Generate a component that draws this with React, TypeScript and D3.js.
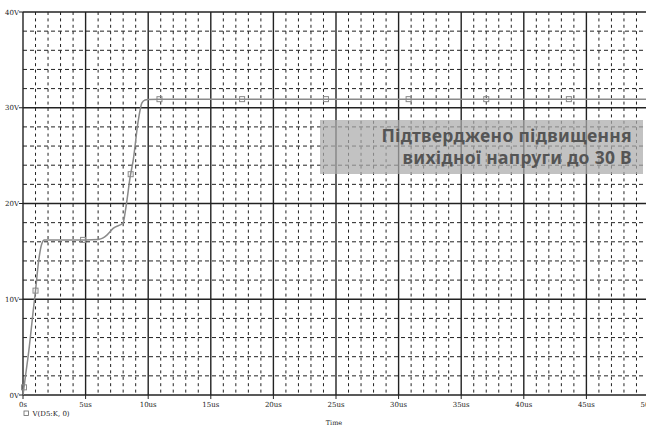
import React from 'react';
import * as d3 from 'd3';

// transient sim: output voltage V(D5:K, 0) vs time (us)
const timeUs = [0, 0.15, 0.5, 0.8, 1.0, 1.25, 1.5, 1.7, 3, 5, 6.0, 6.4, 6.7, 7.2, 8.0, 8.15, 8.3, 8.55, 8.8, 9.2, 9.5, 9.75, 10.0, 11, 20, 30, 40, 50];
const volts = [0, 1.5, 5.0, 8.6, 10.9, 14.0, 15.8, 16.2, 16.2, 16.2, 16.25, 16.4, 16.7, 17.4, 18.0, 19.0, 20.3, 22.7, 24.5, 28.6, 30.5, 30.8, 30.85, 30.9, 30.9, 30.9, 30.9, 30.9];
const markerTimes = [0.08, 1.0, 4.8, 8.6, 10.9, 17.5, 24.2, 30.8, 37.0, 43.6];

const xTicks = [0, 5, 10, 15, 20, 25, 30, 35, 40, 45, 50];
const xTickLabels = ['0s', '5us', '10us', '15us', '20us', '25us', '30us', '35us', '40us', '45us', '50us'];
const yTicks = [0, 10, 20, 30, 40];
const yTickLabels = ['0V', '10V', '20V', '30V', '40V'];
const legendLabel = 'V(D5:K, 0)';
const axisTitle = 'Time';
const noteLines = ['Підтверджено підвищення', 'вихідної напруги до 30 В'];

const W = 646;
const H = 430;
const margin = { top: 12, right: -3, bottom: 35, left: 23 };

const App: React.FC = () => {
  const innerW = W - margin.left - margin.right;
  const innerH = H - margin.top - margin.bottom;
  const x = d3.scaleLinear().domain([0, 50]).range([0, innerW]);
  const y = d3.scaleLinear().domain([0, 40]).range([innerH, 0]);

  const minorX = d3.range(0, 50, 1).filter((t) => t % 5 !== 0);
  const minorY = d3.range(0, 40, 2).filter((v) => v % 10 !== 0);

  const pts: [number, number][] = timeUs.map((t, i) => [x(t), y(volts[i])]);
  const line = d3.line<[number, number]>().curve(d3.curveMonotoneX)(pts) || '';
  const interp = (t: number) => {
    const i = d3.bisectLeft(timeUs, t);
    if (i <= 0) return volts[0];
    if (i >= timeUs.length) return volts[volts.length - 1];
    const t0 = timeUs[i - 1], t1 = timeUs[i];
    return volts[i - 1] + ((t - t0) / (t1 - t0)) * (volts[i] - volts[i - 1]);
  };

  const tickFont = '"DejaVu Serif", serif';

  return (
    <svg width={W} height={H} style={{ position: 'absolute', left: 0, top: 0, background: '#fff' }}>
      <g transform={`translate(${margin.left},${margin.top})`}>
        {/* minor dashed grid */}
        {minorX.map((t) => (
          <line key={'mx' + t} x1={x(t)} x2={x(t)} y1={0} y2={innerH}
            stroke="#222" strokeWidth={1} strokeDasharray="3,3.4" />
        ))}
        {minorY.map((v) => (
          <line key={'my' + v} x1={0} x2={innerW} y1={y(v)} y2={y(v)}
            stroke="#222" strokeWidth={1} strokeDasharray="4,3" />
        ))}
        {/* major grid */}
        {xTicks.map((t) => (
          <line key={'gx' + t} x1={x(t)} x2={x(t)} y1={0} y2={innerH} stroke="#222" strokeWidth={1.4} />
        ))}
        {yTicks.map((v) => (
          <line key={'gy' + v} x1={0} x2={innerW} y1={y(v)} y2={y(v)} stroke="#222" strokeWidth={1.4} />
        ))}

        {/* trace */}
        <path d={line} fill="none" stroke="#8a8a8a" strokeWidth={1.5} />
        {markerTimes.map((t) => (
          <rect key={'m' + t} x={x(t) - 2.5} y={y(interp(t)) - 2.5} width={5} height={5}
            fill="none" stroke="#8a8a8a" strokeWidth={1} />
        ))}

        {/* axis ticks & labels */}
        {yTicks.map((v, i) => (
          <g key={'yt' + v}>
            <line x1={-4} x2={0} y1={y(v)} y2={y(v)} stroke="#222" strokeWidth={1} />
            <text x={-4} y={y(v) + 2.5} textAnchor="end" fontFamily={tickFont} fontSize={7} fill="#222">
              {yTickLabels[i]}
            </text>
          </g>
        ))}
        {xTicks.map((t, i) => (
          <g key={'xt' + t}>
            <line x1={x(t)} x2={x(t)} y1={innerH} y2={innerH + 4} stroke="#222" strokeWidth={1} />
            <text x={x(t)} y={innerH + 12} textAnchor="middle" fontFamily={tickFont} fontSize={7} fill="#222">
              {xTickLabels[i]}
            </text>
          </g>
        ))}
        <text x={innerW / 2 - 2} y={innerH + 30} textAnchor="middle" fontFamily={tickFont} fontSize={6.5} fill="#222">
          {axisTitle}
        </text>

        {/* legend */}
        <rect x={1} y={innerH + 16} width={4.5} height={4.5} fill="none" stroke="#666" strokeWidth={0.8} />
        <text x={9.5} y={innerH + 21} fontFamily={tickFont} fontSize={7} fill="#222">{legendLabel}</text>
      </g>

      {/* annotation */}
      <rect x={320} y={120} width={323} height={54} fill="#aaaaaa" fillOpacity={0.72} />
      {noteLines.map((s, i) => (
        <text key={s} x={632} y={142 + i * 22} textAnchor="end" fontFamily='"Noto Sans", sans-serif'
          fontWeight="bold" fontSize={17.5} letterSpacing={0.3} fill="#555">
          {s}
        </text>
      ))}
    </svg>
  );
};

export default App;
